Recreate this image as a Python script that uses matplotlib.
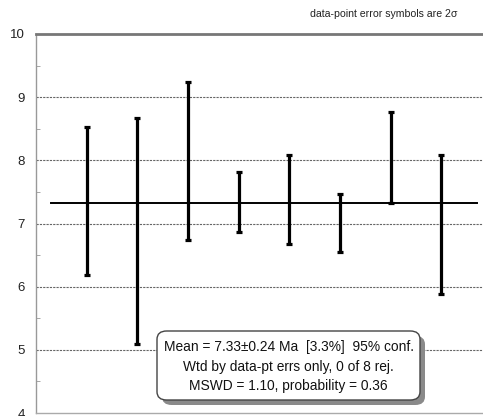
import matplotlib.pyplot as plt
import numpy as np
from matplotlib.patches import FancyBboxPatch

plt.rcParams['font.family'] = ['Liberation Sans', 'DejaVu Sans']

# Data: ages (Ma) and 2-sigma errors
ages = np.array([7.35, 6.88, 7.99, 7.34, 7.38, 7.01, 8.04, 6.99])
errs = np.array([1.17, 1.79, 1.25, 0.47, 0.71, 0.46, 0.72, 1.10])
mean_age = 7.33
box_lines = ["Mean = 7.33\u00b10.24 Ma  [3.3%]  95% conf.",
             "Wtd by data-pt errs only, 0 of 8 rej.",
             "MSWD = 1.10, probability = 0.36"]
pos = np.arange(1, len(ages) + 1)

fig = plt.figure(figsize=(4.83, 4.16), dpi=100)
ax = fig.add_axes([36 / 483, 3 / 416, 466 / 483, 379 / 416])
ax.set_xlim(0, 9.2)
ax.set_ylim(4, 10)

# dashed gridlines
for y in [5, 6, 7, 8, 9]:
    ax.axhline(y, color='#666666', lw=0.8, ls=(0, (2, 1)), zorder=1)

# weighted mean line
ax.plot([0.3, 8.71], [mean_age, mean_age], color='black', lw=1.4, zorder=2)

# error bars
ax.errorbar(pos, ages, yerr=errs, fmt='none', ecolor='black', elinewidth=2.3,
            capsize=2.2, capthick=2.3, zorder=3)

ax.set_yticks([4, 5, 6, 7, 8, 9, 10])
ax.set_yticks(np.arange(4.5, 10, 1), minor=True)
ax.set_xticks([])
ax.tick_params(axis='y', which='major', length=0, labelsize=9.5, pad=8, labelcolor='#222222')
ax.tick_params(axis='y', which='minor', direction='in', length=3, color='#999999')

ax.spines['top'].set_color('#777777')
ax.spines['top'].set_linewidth(2)
ax.spines['left'].set_color('#999999')
ax.spines['left'].set_linewidth(1)
ax.spines['bottom'].set_color('#aaaaaa')
ax.spines['bottom'].set_linewidth(1)
ax.spines['right'].set_visible(False)

fig.text(457 / 483, 1 - 14 / 416, 'data-point error symbols are 2\u03c3',
         ha='right', va='center', fontsize=7.6, color='#222222')

# text box with shadow
bx, by, bw, bh = 157 / 483, 16 / 416, 263 / 483, 69 / 416
shadow = FancyBboxPatch((bx + 5 / 483, by - 5 / 416), bw, bh,
                        boxstyle='round,pad=0,rounding_size=0.02',
                        transform=fig.transFigure, facecolor='#8a8a8a',
                        edgecolor='none', zorder=5)
box = FancyBboxPatch((bx, by), bw, bh,
                     boxstyle='round,pad=0,rounding_size=0.02',
                     transform=fig.transFigure, facecolor='white',
                     edgecolor='#444444', lw=1, zorder=6)
fig.add_artist(shadow)
fig.add_artist(box)
for i, line in enumerate(box_lines):
    fig.text(288.5 / 483, 1 - (347 + i * 19.5) / 416, line, ha='center',
             va='center', fontsize=9.9, color='#111111', zorder=7)

fig.savefig('out.png', dpi=100)
